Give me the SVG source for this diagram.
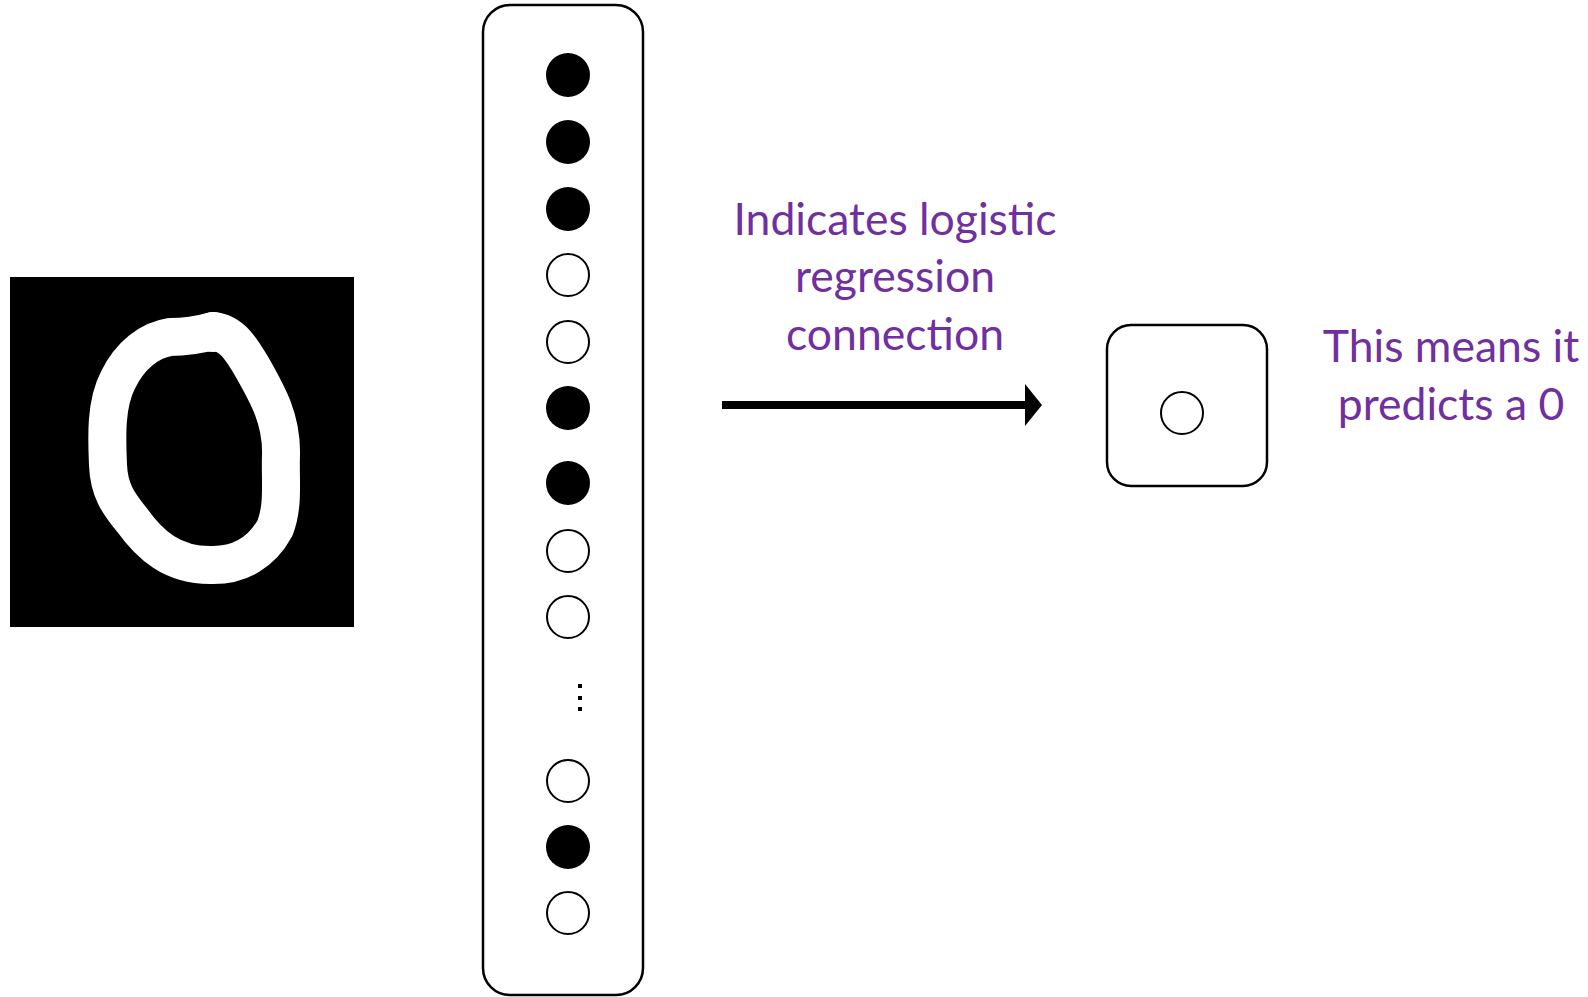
<svg xmlns="http://www.w3.org/2000/svg" width="1588" height="997" viewBox="0 0 1588 997">
<defs>
<style>
.lbl{font-family:Lato,"Open Sans","Liberation Sans",sans-serif;font-size:44.5px;fill:#7030A0;text-anchor:middle}
.box{fill:#fff;stroke:#000;stroke-width:2.5}
.on{fill:#000}
.off{fill:#fff;stroke:#000;stroke-width:2}
</style>
<marker id="ah" markerWidth="17" markerHeight="42" refX="0" refY="21" orient="auto" markerUnits="userSpaceOnUse">
<path d="M0,0 L17,21 L0,42 Z" fill="#000"/>
</marker>
</defs>
<rect width="1588" height="997" fill="#fff"/>
<g id="digit-image">
<rect x="10" y="277" width="344" height="350" fill="#000"/>
<path d="M213,331 C195,336 180,337 170,337 C150,340 130,355 118,380 C105,405 107,440 108,465 C109,490 118,503 132,520 C150,545 172,565 210,565 C240,566 262,552 275,528 C284,505 280,480 281,455 C282,420 268,395 252,367 C242,350 232,333 213,331" fill="none" stroke="#fff" stroke-width="38" stroke-linecap="round" stroke-linejoin="round"/>
<circle cx="213" cy="332" r="20" fill="#fff"/>
</g>
<g id="input-layer">
<rect class="box" x="483" y="5" width="160" height="990" rx="27"/>
<circle class="on" cx="568" cy="75" r="22"/>
<circle class="on" cx="568" cy="142" r="22"/>
<circle class="on" cx="568" cy="209" r="22"/>
<circle class="off" cx="568" cy="275" r="21"/>
<circle class="off" cx="568" cy="342" r="21"/>
<circle class="on" cx="568" cy="408" r="22"/>
<circle class="on" cx="568" cy="483" r="22"/>
<circle class="off" cx="568" cy="551" r="21"/>
<circle class="off" cx="568" cy="617" r="21"/>
<rect x="578" y="684" width="4" height="4"/>
<rect x="578" y="696" width="4" height="4"/>
<rect x="578" y="707" width="4" height="4"/>
<circle class="off" cx="568" cy="781" r="21"/>
<circle class="on" cx="568" cy="847" r="22"/>
<circle class="off" cx="568" cy="913" r="21"/>
</g>
<g id="connectors">
<line x1="722" y1="405" x2="1025" y2="405" stroke="#000" stroke-width="8" marker-end="url(#ah)"/>
</g>
<g id="arrow-label">
<text class="lbl" x="895" y="235">Indicates logistic</text>
<text class="lbl" x="895" y="292">regression</text>
<text class="lbl" x="895" y="350">connection</text>
</g>
<g id="output-node">
<rect class="box" x="1107" y="325" width="160" height="161" rx="24"/>
<circle class="off" cx="1182" cy="413" r="21"/>
</g>
<g id="output-label">
<text class="lbl" x="1451" y="362">This means it</text>
<text class="lbl" x="1451" y="420">predicts a 0</text>
</g>
</svg>
